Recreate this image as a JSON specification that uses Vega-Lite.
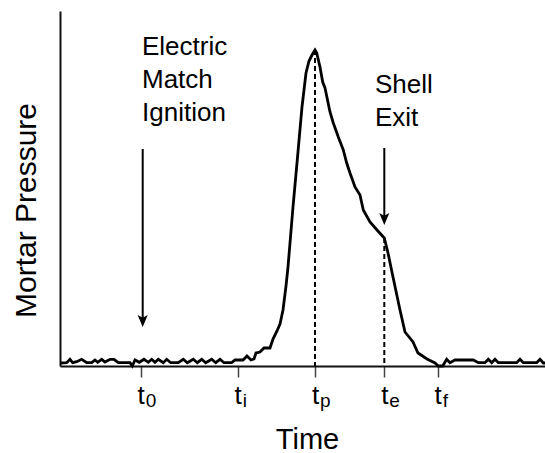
{
  "$schema": "https://vega.github.io/schema/vega-lite/v6.json",
  "width": 485,
  "height": 355,
  "autosize": {"type": "none"},
  "padding": {"left": 60, "top": 11, "right": 0, "bottom": 87},
  "background": "white",
  "config": {"view": {"stroke": null}, "font": "Liberation Sans"},
  "datasets": {
    "curve": [
      {"t": 0, "p": 3}, {"t": 6.7, "p": 3.3}, {"t": 10, "p": 6.7}, {"t": 12.7, "p": 3.3}, {"t": 16.7, "p": 4.3},
      {"t": 21.7, "p": 6.7}, {"t": 26.7, "p": 3.3}, {"t": 31.7, "p": 3.3}, {"t": 35, "p": 6}, {"t": 37.7, "p": 3.7},
      {"t": 41.7, "p": 6.7}, {"t": 45, "p": 4}, {"t": 50, "p": 6.7}, {"t": 54, "p": 6.7}, {"t": 58.3, "p": 3.3},
      {"t": 70, "p": 3.3}, {"t": 72.3, "p": 0}, {"t": 75, "p": 6}, {"t": 79.3, "p": 3.7}, {"t": 84, "p": 6.7},
      {"t": 88.3, "p": 3.7}, {"t": 91.7, "p": 6.7}, {"t": 95, "p": 3.7}, {"t": 98.3, "p": 6.7}, {"t": 103.3, "p": 3.3},
      {"t": 106.7, "p": 6.7}, {"t": 110.7, "p": 3.3}, {"t": 118.3, "p": 3.3}, {"t": 123.3, "p": 6.7}, {"t": 127.3, "p": 3.3},
      {"t": 133.3, "p": 6.7}, {"t": 137.3, "p": 3.3}, {"t": 141.7, "p": 6.7}, {"t": 145.7, "p": 3.3}, {"t": 151.7, "p": 6.7},
      {"t": 155.7, "p": 3.3}, {"t": 160, "p": 6.7}, {"t": 164, "p": 3.3}, {"t": 171.7, "p": 3.3}, {"t": 175, "p": 6},
      {"t": 183, "p": 6}, {"t": 187, "p": 10}, {"t": 191, "p": 6}, {"t": 194, "p": 7}, {"t": 196, "p": 13},
      {"t": 200, "p": 14}, {"t": 204, "p": 18}, {"t": 210, "p": 18}, {"t": 213, "p": 27}, {"t": 217, "p": 35},
      {"t": 220, "p": 42}, {"t": 223, "p": 56}, {"t": 226, "p": 80}, {"t": 228, "p": 99}, {"t": 231, "p": 135},
      {"t": 233, "p": 159}, {"t": 237, "p": 203}, {"t": 242, "p": 259}, {"t": 246, "p": 293}, {"t": 249, "p": 305},
      {"t": 252, "p": 311}, {"t": 255, "p": 316}, {"t": 256.7, "p": 313}, {"t": 260, "p": 299}, {"t": 262.7, "p": 284},
      {"t": 265, "p": 278}, {"t": 270, "p": 254}, {"t": 273.3, "p": 243}, {"t": 278.3, "p": 229}, {"t": 283.3, "p": 216},
      {"t": 286.7, "p": 203}, {"t": 290, "p": 193}, {"t": 295, "p": 179}, {"t": 300, "p": 171}, {"t": 303.3, "p": 156},
      {"t": 310, "p": 144}, {"t": 317, "p": 136}, {"t": 324.3, "p": 128}, {"t": 328, "p": 113}, {"t": 333, "p": 89},
      {"t": 340, "p": 56}, {"t": 345, "p": 34}, {"t": 353, "p": 24}, {"t": 358, "p": 13}, {"t": 367, "p": 7},
      {"t": 375, "p": 3}, {"t": 378.3, "p": 0}, {"t": 382.7, "p": 0}, {"t": 386.7, "p": 6.7}, {"t": 390, "p": 3.3},
      {"t": 395, "p": 6}, {"t": 413.3, "p": 6}, {"t": 418.3, "p": 3.3}, {"t": 425, "p": 3.3}, {"t": 428.3, "p": 6.7},
      {"t": 431.7, "p": 3.3}, {"t": 435, "p": 6.7}, {"t": 438.3, "p": 3.3}, {"t": 456.7, "p": 3.3}, {"t": 460, "p": 6.7},
      {"t": 463.3, "p": 3.3}, {"t": 476.7, "p": 3.3}, {"t": 480, "p": 6.7}, {"t": 483.3, "p": 3}, {"t": 485, "p": 3}
    ],
    "marks": [
      {"t": 255, "p": 316, "name": "p"},
      {"t": 324.3, "p": 128, "name": "e"}
    ],
    "ticks": [
      {"t": 80.7, "sub": "0", "p": -41},
      {"t": 177.7, "sub": "i", "p": -41},
      {"t": 255, "sub": "p", "p": -41},
      {"t": 324.3, "sub": "e", "p": -41},
      {"t": 377.7, "sub": "f", "p": -41}
    ],
    "arrows": [
      {"t": 82.7, "top": 217, "tip": 39},
      {"t": 324.3, "top": 218, "tip": 141}
    ],
    "notes": [
      {"t": 82, "p": 311, "text": ["Electric", "Match", "Ignition"]},
      {"t": 315, "p": 273, "text": ["Shell", "Exit"]}
    ]
  },
  "layer": [
    {
      "data": {"name": "curve"},
      "mark": {"type": "line", "color": "black", "strokeWidth": 2.8, "clip": false},
      "encoding": {
        "x": {"field": "t", "type": "quantitative", "scale": {"domain": [0, 485], "nice": false, "zero": false},
          "axis": {
            "values": [80.7, 177.7, 255, 324.3, 377.7],
            "labelExpr": "'t'",
            "grid": false,
            "domainColor": "#111", "domainWidth": 2,
            "tickColor": "#444", "tickWidth": 1.5, "tickSize": 11,
            "labelFont": "Liberation Sans", "labelFontSize": 26, "labelColor": "black",
            "labelBaseline": "alphabetic", "labelPadding": 26, "labelFlush": false, "labelOverlap": false,
            "title": "Time", "titleFont": "Liberation Sans", "titleFontSize": 29, "titleFontWeight": "normal",
            "titleColor": "black", "titleBaseline": "alphabetic", "titleX": 247, "titleY": 82, "titleAnchor": "middle"
          }},
        "y": {"field": "p", "type": "quantitative", "scale": {"domain": [0, 355], "nice": false, "zero": false},
          "axis": {
            "ticks": false, "labels": false, "grid": false,
            "domainColor": "#111", "domainWidth": 2,
            "title": "Mortar Pressure", "titleFont": "Liberation Sans", "titleFontSize": 30, "titleFontWeight": "normal",
            "titleColor": "black", "titleAngle": -90, "titleBaseline": "alphabetic", "titleAlign": "center",
            "titleX": -25, "titleY": 199
          }}
      }
    },
    {
      "data": {"name": "marks"},
      "mark": {"type": "rule", "strokeDash": [5, 3], "strokeWidth": 2, "color": "black"},
      "encoding": {
        "x": {"field": "t", "type": "quantitative"},
        "y": {"field": "p", "type": "quantitative"},
        "y2": {"datum": 0}
      }
    },
    {
      "data": {"name": "arrows"},
      "mark": {"type": "rule", "color": "black", "strokeWidth": 2, "y2Offset": -6},
      "encoding": {
        "x": {"field": "t", "type": "quantitative"},
        "y": {"field": "top", "type": "quantitative"},
        "y2": {"field": "tip"}
      }
    },
    {
      "data": {"name": "arrows"},
      "mark": {"type": "point", "shape": "M0,0L-0.42,-1L0,-0.78L0.42,-1Z", "filled": true, "size": 576, "color": "black", "opacity": 1, "strokeWidth": 0},
      "encoding": {
        "x": {"field": "t", "type": "quantitative"},
        "y": {"field": "tip", "type": "quantitative"}
      }
    },
    {
      "data": {"name": "ticks"},
      "mark": {"type": "text", "align": "left", "baseline": "alphabetic", "fontSize": 19, "dx": 5, "color": "black", "font": "Liberation Sans", "clip": false},
      "encoding": {
        "x": {"field": "t", "type": "quantitative"},
        "y": {"field": "p", "type": "quantitative"},
        "text": {"field": "sub"}
      }
    },
    {
      "data": {"name": "notes"},
      "mark": {"type": "text", "align": "left", "baseline": "alphabetic", "fontSize": 26, "lineHeight": 33, "color": "black", "font": "Liberation Sans"},
      "encoding": {
        "x": {"field": "t", "type": "quantitative"},
        "y": {"field": "p", "type": "quantitative"},
        "text": {"field": "text"}
      }
    }
  ]
}
